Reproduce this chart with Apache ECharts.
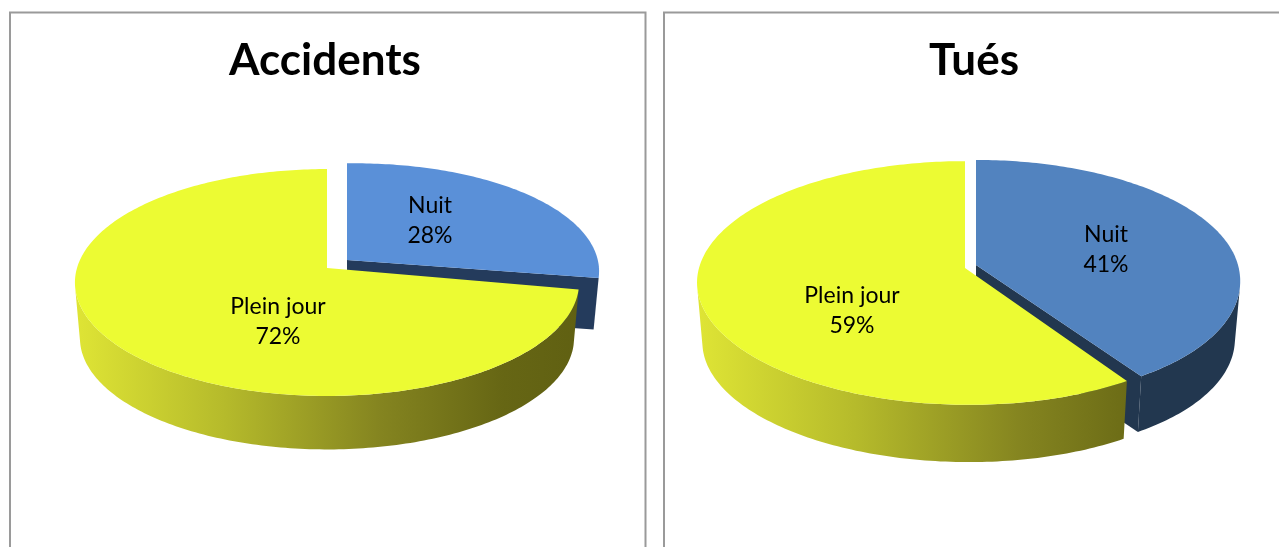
<!DOCTYPE html>
<html>
<head>
<meta charset="utf-8">
<style>
html, body { margin: 0; padding: 0; background: #fff; }
#main { width: 1279px; height: 547px; }
</style>
<script src="https://cdn.jsdelivr.net/npm/echarts@6/dist/echarts.min.js"></script>
</head>
<body>
<div id="main"></div>
<script>
const categories = ['Nuit', 'Plein jour'];
const accidents = [28, 72];
const tues = [41, 59];
const titles = ['Accidents', 'Tués'];

const font = 'Lato, "Open Sans", sans-serif';

// flat disc seen in perspective: x0,y0 = centre, a/b = half axes, k = perspective strength
// tilt and skew nudge the rim so the slices line up like the original picture
const discs = [
    [
        { x0: 347, y0: 260, a: 109, b: 250, k: 0.128, tilt: -3, skew: 0, depth: 52, color: '#5a90d8', side: '#243b5c', labelX: 430, labelY: 221 },
        { x0: 327, y0: 268, a: 111.6, b: 250, k: 0.128, tilt: 0, skew: 0, depth: 56, color: '#ecfb33', labelX: 278, labelY: 322 }
    ],
    [
        { x0: 976, y0: 265, a: 118, b: 262, k: 0.123, tilt: 0, skew: 12, depth: 58, color: '#5283bf', side: '#22374f', labelX: 1106, labelY: 250 },
        { x0: 965, y0: 268, a: 120, b: 266, k: 0.123, tilt: 0, skew: 4, depth: 60, color: '#ecfb33', labelX: 852, labelY: 311 }
    ]
];
const shrink = 0.98;

function project(d, deg) {
    const t = deg * Math.PI / 180;
    const u = Math.sin(t), v = -Math.cos(t);
    const w = 1 - d.k * v;
    return [
        d.x0 + d.b * u / w + d.skew * v * Math.abs(v) * (v > 0 ? 1 : 0),
        d.y0 + d.a * v / w + d.tilt * u
    ];
}

function lower(d, p) {
    return [d.x0 + (p[0] - d.x0) * shrink, d.y0 + (p[1] - d.y0) * shrink + d.depth];
}

function arc(d, from, to) {
    const pts = [];
    const n = Math.ceil(Math.abs(to - from));
    for (let i = 0; i <= n; i++) {
        pts.push(project(d, from + (to - from) * i / n));
    }
    return pts;
}

// part of the rim that faces the viewer
function frontRim(d, top) {
    const front = [];
    for (let j = 0; j < top.length - 1; j++) {
        const low = lower(d, top[j]);
        const ex = top[j + 1][0] - top[j][0], ey = top[j + 1][1] - top[j][1];
        const fx = low[0] - top[j][0], fy = low[1] - top[j][1];
        if (ex * fy - ey * fx < 0) {
            if (!front.length) front.push(top[j]);
            front.push(top[j + 1]);
        }
    }
    return front;
}

function yellowSide(d) {
    const left = d.x0 - d.b * 1.01, right = d.x0 + d.b * 1.01;
    return {
        type: 'linear', x: left, y: 0, x2: right, y2: 0, global: true,
        colorStops: [
            { offset: 0, color: '#dfe535' },
            { offset: 0.3, color: '#b5ba2b' },
            { offset: 0.6, color: '#858520' },
            { offset: 0.85, color: '#666614' },
            { offset: 1, color: '#606012' }
        ]
    };
}

function renderSlice(pieIndex, values) {
    const total = values[0] + values[1];
    return function (params, api) {
        const i = params.dataIndex;
        const d = discs[pieIndex][i];
        const start = i === 0 ? 0 : values[0] / total * 360;
        const end = start + api.value(0) / total * 360;
        const top = arc(d, start, end);
        const apex = [d.x0, d.y0];
        const children = [];
        const rim = frontRim(d, top);
        const bottom = rim.map(p => lower(d, p)).reverse();
        children.push({
            type: 'polygon',
            shape: { points: rim.concat(bottom) },
            style: { fill: d.side || yellowSide(d) }
        });
        if (d.side) {
            // cut face under the closing edge of the slice
            const last = top[top.length - 1];
            children.push({
                type: 'polygon',
                shape: { points: [apex, last, lower(d, last), lower(d, apex)] },
                style: { fill: d.side }
            });
        }
        children.push({ type: 'polygon', shape: { points: [apex].concat(top) }, style: { fill: d.color } });
        children.push({
            type: 'text',
            style: {
                x: d.labelX, y: d.labelY,
                text: categories[i] + '\n' + api.value(0) + '%',
                align: 'center', verticalAlign: 'middle',
                font: '23px ' + font, lineHeight: 30, fill: '#000'
            }
        });
        return { type: 'group', children: children };
    };
}

function pieSeries(pieIndex, values) {
    return {
        type: 'custom',
        coordinateSystem: 'none',
        silent: true,
        animation: false,
        renderItem: renderSlice(pieIndex, values),
        data: values.map((v, i) => ({ name: categories[i], value: v }))
    };
}

const chart = echarts.init(document.getElementById('main'), null, { renderer: 'canvas' });
chart.setOption({
    backgroundColor: '#fff',
    animation: false,
    title: [
        { text: titles[0], left: 325, top: 39, padding: 0, textAlign: 'center', textStyle: { fontFamily: font, fontWeight: 'bold', fontSize: 44, color: '#000' } },
        { text: titles[1], left: 974, top: 39, padding: 0, textAlign: 'center', textStyle: { fontFamily: font, fontWeight: 'bold', fontSize: 44, color: '#000' } }
    ],
    graphic: [
        { type: 'polyline', shape: { points: [[10, 547], [10, 12.5], [645.5, 12.5], [645.5, 547]] }, style: { stroke: '#9a9a9a', lineWidth: 2, fill: null } },
        { type: 'polyline', shape: { points: [[664, 547], [664, 12.5], [1285, 12.5]] }, style: { stroke: '#9a9a9a', lineWidth: 2, fill: null } }
    ],
    series: [pieSeries(0, accidents), pieSeries(1, tues)]
});
window.addEventListener('resize', function () {
    chart.resize();
});
</script>
</body>
</html>
